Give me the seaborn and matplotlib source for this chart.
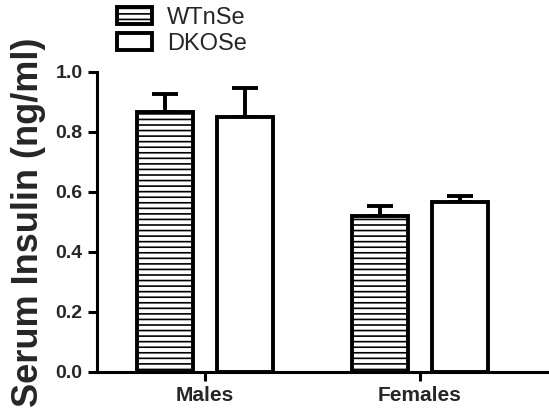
import numpy as np
import pandas as pd
import seaborn as sns
import matplotlib
matplotlib.use("Agg")
import matplotlib.pyplot as plt

# data
groups = ["Males", "Females"]
genotypes = ["WTnSe", "DKOSe"]
wt_mean = [0.867, 0.520]
wt_sem = [0.060, 0.033]
dko_mean = [0.850, 0.567]
dko_sem = [0.097, 0.020]

df = pd.DataFrame({
    "sex": groups * 2,
    "genotype": [genotypes[0]] * 2 + [genotypes[1]] * 2,
    "insulin": wt_mean + dko_mean,
    "sem": wt_sem + dko_sem,
})

sns.set_style("ticks")
plt.rcParams["font.family"] = ["Liberation Sans", "DejaVu Sans"]
plt.rcParams["hatch.linewidth"] = 1.2
plt.rcParams["hatch.color"] = "black"

fig = plt.figure(figsize=(5.49, 4.12), dpi=100)
ax = fig.add_axes([97 / 549, 1 - 372 / 412, 1 - 97 / 549, 300 / 412])

sns.barplot(data=df, x="sex", y="insulin", hue="genotype", order=groups,
            hue_order=genotypes, errorbar=None, width=0.744, gap=0.31,
            color="white", edgecolor="black", linewidth=2.8, ax=ax, legend=False)

hatches = ["---", ""]
for cont, hatch, sub in zip(ax.containers, hatches, genotypes):
    d = df[df.genotype == sub].set_index("sex").loc[groups]
    xs = []
    for bar in cont:
        bar.set_facecolor("white")
        bar.set_hatch(hatch)
        bar.set_zorder(3)
        xs.append(bar.get_x() + bar.get_width() / 2)
    ax.errorbar(xs, d["insulin"], yerr=[np.zeros(len(xs)), d["sem"]], fmt="none",
                ecolor="black", elinewidth=2.8, capsize=9.5, capthick=2.8,
                zorder=2, clip_on=False)

ax.set_xlim(-0.502, 1.6)
ax.set_ylim(0, 1.0)
ax.set_yticks(np.arange(0, 1.01, 0.2))
ax.set_yticklabels([f"{v:.1f}" for v in np.arange(0, 1.01, 0.2)])
ax.set_xlabel("")
ax.set_ylabel("Serum Insulin (ng/ml)", fontsize=26, fontweight="bold")
ax.yaxis.set_label_coords(-0.112, 0.5)

for s in ["top", "right"]:
    ax.spines[s].set_visible(False)
for s in ["left", "bottom"]:
    ax.spines[s].set_linewidth(2.2)
    ax.spines[s].set_color("black")
ax.tick_params(axis="both", width=2.2, length=6.5, color="black")
ax.tick_params(axis="y", labelsize=14, pad=4)
ax.tick_params(axis="x", labelsize=15, pad=3.5)
for lab in ax.get_xticklabels() + ax.get_yticklabels():
    lab.set_fontweight("bold")

fig.legend(handles=[ax.containers[0][0], ax.containers[1][0]], labels=genotypes,
           loc="upper left", bbox_to_anchor=(117 / 549, 0.983), frameon=False,
           fontsize=17, borderpad=0, borderaxespad=0, handlelength=1.48,
           handleheight=0.76, handletextpad=0.64, labelspacing=0.15)

fig.savefig("out.png", dpi=100)
